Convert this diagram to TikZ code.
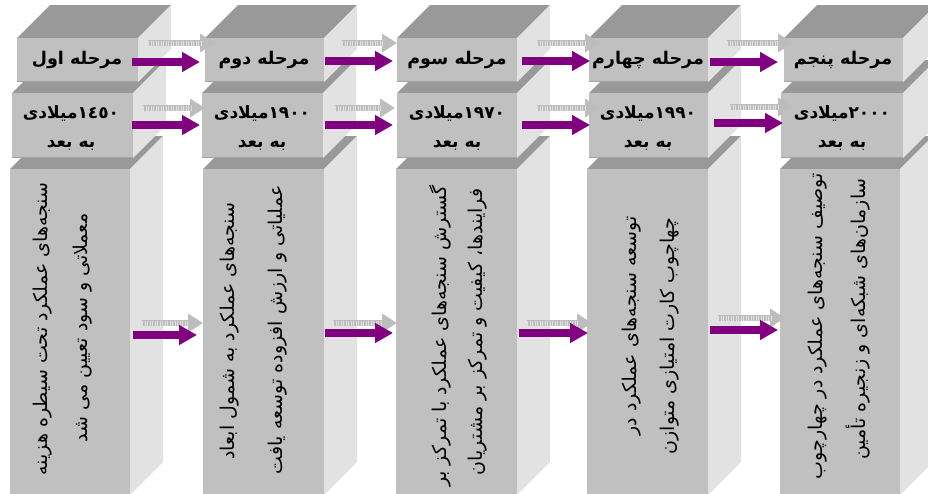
\documentclass[tikz,border=0pt]{standalone}
\usepackage{fontspec}
\usetikzlibrary{arrows.meta}
\TeXXeTstate=1
\newfontfamily\fa[Script=Arabic]{DejaVu Sans}
\definecolor{frontc}{HTML}{C0C0C0}
\definecolor{topc}{HTML}{999999}
\definecolor{sidec}{HTML}{E2E2E2}
\definecolor{purp}{HTML}{800080}
\definecolor{ghostc}{HTML}{BDBDBD}
\newcommand\boxcube[4]{%
  \fill[topc] (#1,#2) -- ++(33,-33) -- ++(#3,0) -- ++(-33,33) -- cycle;
  \fill[sidec] ({#1+#3},#2) -- ++(33,-33) -- ++(0,#4) -- ++(-33,33) -- cycle;
  \fill[frontc] (#1,#2) rectangle ++(#3,#4);
  \draw[frontc!85!black,line width=0.8pt] (#1,{#2+#4-1}) -- ++(#3,0);}
\tikzset{
  title/.style={font=\fa\bfseries\fontsize{17.5}{20}\selectfont, inner sep=0pt},
  datetext/.style={font=\fa\bfseries\fontsize{17}{20}\selectfont, inner sep=0pt},
  vtext/.style={font=\fa\fontsize{19}{22}\selectfont, rotate=90, inner sep=0pt},
  purparrow/.style={draw=purp, line width=8pt, -{Triangle[length=18pt,width=19pt]}},
  ghostarrow/.style={draw=ghostc, line width=6pt, -{Triangle[length=15pt,width=18pt]}},
  ghosttex/.style={draw=white, opacity=0.55, line width=5pt, dash pattern=on 1pt off 1.5pt, shorten >=14pt}
}
\begin{document}
\begin{tikzpicture}[x=1pt,y=-1pt]
\useasboundingbox (0,0) rectangle (928,493);
\clip (0,0) rectangle (928,493);
% column 1
\boxcube{10}{169}{120}{326}
\boxcube{12}{93}{121}{65}
\boxcube{17}{38}{121}{44}
% column 2
\boxcube{203}{169}{121}{326}
\boxcube{202}{93}{121}{65}
\boxcube{205}{38}{119}{44}
% column 3
\boxcube{396}{169}{121}{326}
\boxcube{397}{93}{120}{65}
\boxcube{397}{38}{120}{44}
% column 4
\boxcube{587}{169}{121}{326}
\boxcube{589}{93}{119}{65}
\boxcube{589}{38}{119}{44}
% column 5
\boxcube{780}{169}{120}{326}
\boxcube{781}{93}{122}{65}
\boxcube{784}{38}{119}{44}

% titles
\node[title] (t1) at (77,60) {\beginR مرحله اول\endR};
\node[title] (t2) at (264,60) {\beginR مرحله دوم\endR};
\node[title] (t3) at (457,60) {\beginR مرحله سوم\endR};
\node[title] (t4) at (648,60) {\beginR مرحله چهارم\endR};
\node[title] (t5) at (843,60) {\beginR مرحله پنجم\endR};
% dates
\node[datetext] (d1) at (71,113) {\beginR\beginL ١٤٥٠\endL{}میلادی\endR};
\node[datetext] (d2) at (262,113) {\beginR\beginL ١٩٠٠\endL{}میلادی\endR};
\node[datetext] (d3) at (457,113) {\beginR\beginL ١٩٧٠\endL{}میلادی\endR};
\node[datetext] (d4) at (648,113) {\beginR\beginL ١٩٩٠\endL{}میلادی\endR};
\node[datetext] (d5) at (842,113) {\beginR\beginL ٢٠٠٠\endL{}میلادی\endR};
\node[datetext] (b1) at (71,145) {\beginR به بعد\endR};
\node[datetext] (b2) at (262,145) {\beginR به بعد\endR};
\node[datetext] (b3) at (457,145) {\beginR به بعد\endR};
\node[datetext] (b4) at (648,145) {\beginR به بعد\endR};
\node[datetext] (b5) at (842,145) {\beginR به بعد\endR};
% vertical descriptions
\node[vtext] (v1a) at (43,329) {\beginR سنجه‌های عملکرد تحت سیطره هزینه\endR};
\node[vtext] (v1b) at (83,328) {\beginR معملاتی و سود تعیین می شد\endR};
\node[vtext] (v2a) at (230,331) {\beginR سنجه‌های عملکرد به شمول ابعاد\endR};
\node[vtext] (v2b) at (278,330) {\beginR عملیاتی و ارزش افزوده توسعه یافت\endR};
\node[vtext] (v3a) at (440,336) {\beginR گسترش سنجه‌های عملکرد با تمرکز بر\endR};
\node[vtext] (v3b) at (478,332) {\beginR فرایندها، کیفیت و تمرکز بر مشتریان\endR};
\node[vtext] (v4a) at (632,326) {\beginR توسعه سنجه‌های عملکرد در\endR};
\node[vtext] (v4b) at (670,336) {\beginR چهاچوب کارت امتیازی متوازن\endR};
\node[vtext] (v5a) at (818,326) {\beginR توصیف سنجه‌های عملکرد در چهارچوب\endR};
\node[vtext] (v5b) at (858,319) {\beginR سازمان‌های شبکه‌ای و زنجیره تأمین\endR};

% arrow end points
\foreach \n/\xa/\ya/\xb/\yb in {
  g11/148/43/215/43, g12/143/108/205/108, g13/142/323/203/323,
  g21/342/43/397/43, g22/335/108/395/108, g23/333/323/397/323,
  g31/537/43/600/43, g32/537/108/600/108, g33/527/323/592/323,
  g41/727/43/793/43, g42/730/107/793/107, g43/718/318/785/318}
{
  \coordinate (\n s) at (\xa,\ya);
  \coordinate (\n e) at (\xb,\yb);
  \draw[ghostarrow] (\n s) -- (\n e);
  \draw[ghosttex] (\n s) -- (\n e);
}
\foreach \n/\xa/\ya/\xb/\yb in {
  p11/132/62/200/62, p12/132/125/200/125, p13/133/335/197/335,
  p21/325/61/393/61, p22/325/125/393/125, p23/325/333/393/333,
  p31/522/61/590/61, p32/522/125/590/125, p33/519/333/588/333,
  p41/710/62/778/62, p42/714/123/783/123, p43/710/330/778/330}
{
  \coordinate (\n s) at (\xa,\ya);
  \coordinate (\n e) at (\xb,\yb);
  \draw[purparrow] (\n s) -- (\n e);
}
\end{tikzpicture}
\end{document}
